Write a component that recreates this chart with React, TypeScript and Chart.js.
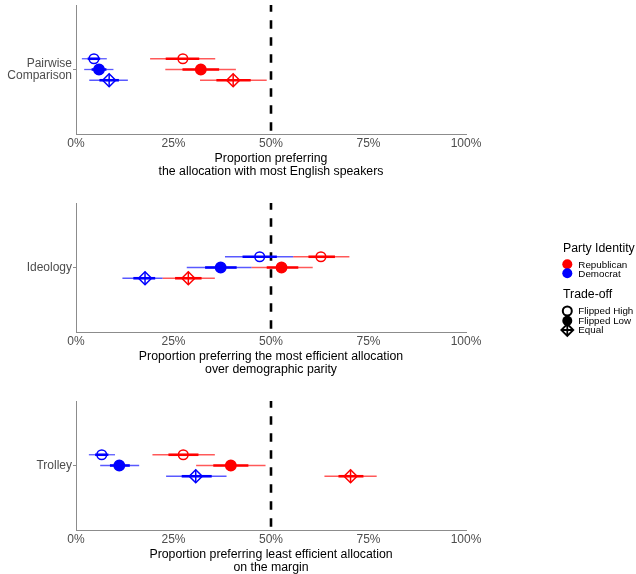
import React, { useEffect, useRef } from 'react';
import { Chart, registerables } from 'chart.js';

Chart.register(...registerables);

const FONT = "'Liberation Sans', Arial, sans-serif";

const tradeoffs = ['Flipped High', 'Flipped Low', 'Equal'];
const parties = ['Republican', 'Democrat'];
const partyColors = ['#FF0000', '#0000FF'];
const partyFaint = ['rgba(255,0,0,0.65)', 'rgba(0,0,255,0.65)'];
const dodge = [0.1, 0, -0.1];
const xTicks = [0, 25, 50, 75, 100];
const refLine = 50;

// Panel 1: Pairwise Comparison
const pairwiseLabel = ['Pairwise', 'Comparison'];
const pairwiseTitle = ['Proportion preferring', 'the allocation with most English speakers'];
const pairwiseRepEst = [27.4, 32.0, 40.3];
const pairwiseRepOuter = [[19.0, 35.7], [22.9, 41.0], [31.8, 48.9]];
const pairwiseRepInner = [[23.0, 31.6], [27.3, 36.7], [36.0, 44.8]];
const pairwiseDemEst = [4.6, 5.9, 8.5];
const pairwiseDemOuter = [[1.5, 7.9], [2.1, 9.6], [3.4, 13.3]];
const pairwiseDemInner = [[3.0, 6.2], [4.0, 7.8], [6.0, 11.0]];

// Panel 2: Ideology
const ideologyLabel = 'Ideology';
const ideologyTitle = ['Proportion preferring the most efficient allocation', 'over demographic parity'];
const ideologyRepEst = [62.8, 52.7, 28.8];
const ideologyRepOuter = [[55.7, 70.1], [45.0, 60.7], [22.2, 35.6]];
const ideologyRepInner = [[59.6, 66.4], [48.9, 57.0], [25.4, 32.2]];
const ideologyDemEst = [47.1, 37.1, 17.7];
const ideologyDemOuter = [[38.2, 55.7], [28.4, 45.0], [11.9, 22.2]];
const ideologyDemInner = [[42.7, 51.5], [33.1, 41.2], [14.7, 20.3]];

// Panel 3: Trolley
const trolleyLabel = 'Trolley';
const trolleyTitle = ['Proportion preferring least efficient allocation', 'on the margin'];
const trolleyRepEst = [27.5, 39.7, 70.4];
const trolleyRepOuter = [[19.6, 35.6], [30.8, 48.6], [63.7, 77.1]];
const trolleyRepInner = [[23.7, 31.4], [35.2, 44.2], [67.3, 73.7]];
const trolleyDemEst = [6.6, 11.1, 30.7];
const trolleyDemOuter = [[3.3, 10.0], [6.2, 16.2], [23.1, 38.6]];
const trolleyDemInner = [[4.9, 8.3], [8.7, 13.8], [27.1, 34.8]];

type PartyData = { est: number[]; outer: number[][]; inner: number[][] };
type PanelData = { label: string | string[]; title: string[]; parties: PartyData[] };

const panels: PanelData[] = [
  {
    label: pairwiseLabel,
    title: pairwiseTitle,
    parties: [
      { est: pairwiseRepEst, outer: pairwiseRepOuter, inner: pairwiseRepInner },
      { est: pairwiseDemEst, outer: pairwiseDemOuter, inner: pairwiseDemInner },
    ],
  },
  {
    label: ideologyLabel,
    title: ideologyTitle,
    parties: [
      { est: ideologyRepEst, outer: ideologyRepOuter, inner: ideologyRepInner },
      { est: ideologyDemEst, outer: ideologyDemOuter, inner: ideologyDemInner },
    ],
  },
  {
    label: trolleyLabel,
    title: trolleyTitle,
    parties: [
      { est: trolleyRepEst, outer: trolleyRepOuter, inner: trolleyRepInner },
      { est: trolleyDemEst, outer: trolleyDemOuter, inner: trolleyDemInner },
    ],
  },
];

const AXIS_GREY = '#8C8C8C';
const TEXT_GREY = '#4D4D4D';
const PLOT_BOTTOM = 134;

const legendPlugin = {
  id: 'sideLegend',
  afterDraw(chart: any) {
    const ctx = chart.ctx;
    ctx.save();
    ctx.textBaseline = 'middle';
    ctx.textAlign = 'left';
    ctx.fillStyle = '#000';
    ctx.font = `12.3px ${FONT}`;
    ctx.fillText('Party Identity', 563, 50.5);
    const partyY = [66.3, 75.3];
    parties.forEach((p, i) => {
      ctx.beginPath();
      ctx.fillStyle = partyColors[i];
      ctx.arc(567.3, partyY[i], 5, 0, Math.PI * 2);
      ctx.fill();
      ctx.fillStyle = '#000';
      ctx.font = `9.8px ${FONT}`;
      ctx.fillText(p, 578.3, partyY[i] + 0.5);
    });
    ctx.font = `12.3px ${FONT}`;
    ctx.fillText('Trade-off', 563, 97);
    const tY = [113, 122.7, 132];
    const cx = 567.3;
    ctx.strokeStyle = '#000';
    ctx.fillStyle = '#000';
    // Flipped High: open circle
    ctx.lineWidth = 2;
    ctx.beginPath();
    ctx.arc(cx, tY[0], 4.5, 0, Math.PI * 2);
    ctx.stroke();
    // Flipped Low: filled circle
    ctx.beginPath();
    ctx.arc(cx, tY[1], 5, 0, Math.PI * 2);
    ctx.fill();
    // Equal: diamond plus
    const r = 6;
    ctx.lineWidth = 1.8;
    ctx.beginPath();
    ctx.moveTo(cx, tY[2] - r);
    ctx.lineTo(cx + r, tY[2]);
    ctx.lineTo(cx, tY[2] + r);
    ctx.lineTo(cx - r, tY[2]);
    ctx.closePath();
    ctx.moveTo(cx - r, tY[2]);
    ctx.lineTo(cx + r, tY[2]);
    ctx.moveTo(cx, tY[2] - r);
    ctx.lineTo(cx, tY[2] + r);
    ctx.stroke();
    ctx.font = `9.8px ${FONT}`;
    tradeoffs.forEach((t, i) => ctx.fillText(t, 578.3, tY[i] + 0.5));
    ctx.restore();
  },
};

function buildConfig(panel: PanelData, H: number, withLegend: boolean) {
  const datasets: any[] = [];
  datasets.push({
    data: [{ x: refLine, y: -0.6 }, { x: refLine, y: 0.6 }],
    showLine: true,
    borderColor: '#000',
    borderWidth: 2.6,
    borderDash: [8.5, 8.5],
    borderDashOffset: 13.7,
    pointRadius: 0,
  });
  panel.parties.forEach((pd, p) => {
    tradeoffs.forEach((_, t) => {
      datasets.push({
        data: [{ x: pd.outer[t][0], y: dodge[t] }, { x: pd.outer[t][1], y: dodge[t] }],
        showLine: true,
        borderColor: partyFaint[p],
        borderWidth: 1.3,
        pointRadius: 0,
      });
      datasets.push({
        data: [{ x: pd.inner[t][0], y: dodge[t] }, { x: pd.inner[t][1], y: dodge[t] }],
        showLine: true,
        borderColor: partyColors[p],
        borderWidth: 2.6,
        pointRadius: 0,
      });
    });
    datasets.push({
      data: tradeoffs.map((_, t) => ({ x: pd.est[t], y: dodge[t] })),
      showLine: false,
      pointStyle: ['circle', 'circle', 'rectRot'],
      pointRadius: [4.8, 5.2, 6.5],
      pointBackgroundColor: ['rgba(0,0,0,0)', partyColors[p], 'rgba(0,0,0,0)'],
      pointBorderColor: partyColors[p],
      pointBorderWidth: 1.5,
    });
    datasets.push({
      data: [{ x: pd.est[2], y: dodge[2] }],
      showLine: false,
      pointStyle: 'cross',
      pointRadius: 6.5,
      pointBorderColor: partyColors[p],
      pointBorderWidth: 1.5,
    });
  });
  const n = datasets.length;
  datasets.forEach((d, i) => (d.order = n - i));

  const titleFont = { family: FONT, size: 12.3, lineHeight: 1.06 };
  const titlePadBottom = H - 171.5 - (12.3 * 1.06) / 2;

  return {
    type: 'scatter' as const,
    data: { datasets },
    options: {
      responsive: false,
      animation: false as const,
      devicePixelRatio: 1,
      events: [],
      layout: { autoPadding: false, padding: { top: 5, right: 170, left: 0, bottom: 0 } },
      plugins: { legend: { display: false }, tooltip: { enabled: false } },
      scales: {
        x: {
          type: 'linear' as const,
          position: 'bottom' as const,
          min: 0,
          max: 100,
          afterBuildTicks: (s: any) => {
            s.ticks = xTicks.map((v) => ({ value: v }));
          },
          afterFit: (s: any) => {
            s.height = H - PLOT_BOTTOM;
            s.paddingLeft = 0;
            s.paddingRight = 0;
          },
          ticks: {
            callback: (v: any) => `${v}%`,
            color: TEXT_GREY,
            font: { family: FONT, size: 12 },
            padding: 2,
            maxRotation: 0,
            autoSkip: false,
          },
          grid: { drawOnChartArea: false, drawTicks: false },
          border: { color: AXIS_GREY, width: 1 },
          title: {
            display: true,
            text: panel.title,
            color: '#000',
            font: titleFont,
            padding: { top: 0, bottom: titlePadBottom },
          },
        },
        y: {
          type: 'linear' as const,
          min: -0.6,
          max: 0.6,
          afterBuildTicks: (s: any) => {
            s.ticks = [{ value: 0 }];
          },
          afterFit: (s: any) => {
            s.width = 76;
            s.paddingTop = 0;
            s.paddingBottom = 0;
          },
          ticks: {
            callback: () => panel.label,
            color: TEXT_GREY,
            font: { family: FONT, size: 12, lineHeight: 0.95 },
            padding: 1,
          },
          grid: { drawOnChartArea: false, drawTicks: true, tickLength: 3, color: AXIS_GREY },
          border: { color: AXIS_GREY, width: 1 },
        },
      },
    },
    plugins: withLegend ? [legendPlugin] : [],
  };
}

function Panel({ panel, top, height, withLegend }: { panel: PanelData; top: number; height: number; withLegend: boolean }) {
  const ref = useRef<HTMLCanvasElement | null>(null);
  useEffect(() => {
    if (!ref.current) return;
    const chart = new Chart(ref.current, buildConfig(panel, height, withLegend) as any);
    return () => chart.destroy();
  }, [panel, height, withLegend]);
  return (
    <div style={{ position: 'absolute', left: 0, top, width: 636, height }}>
      <canvas ref={ref} width={636} height={height} style={{ width: 636, height, display: 'block' }} />
    </div>
  );
}

export default function App() {
  return (
    <div style={{ position: 'fixed', left: 0, top: 0, width: 636, height: 574, background: '#fff', overflow: 'hidden' }}>
      <Panel panel={panels[0]} top={0} height={198} withLegend={false} />
      <Panel panel={panels[1]} top={198} height={198} withLegend={true} />
      <Panel panel={panels[2]} top={396} height={178} withLegend={false} />
    </div>
  );
}
